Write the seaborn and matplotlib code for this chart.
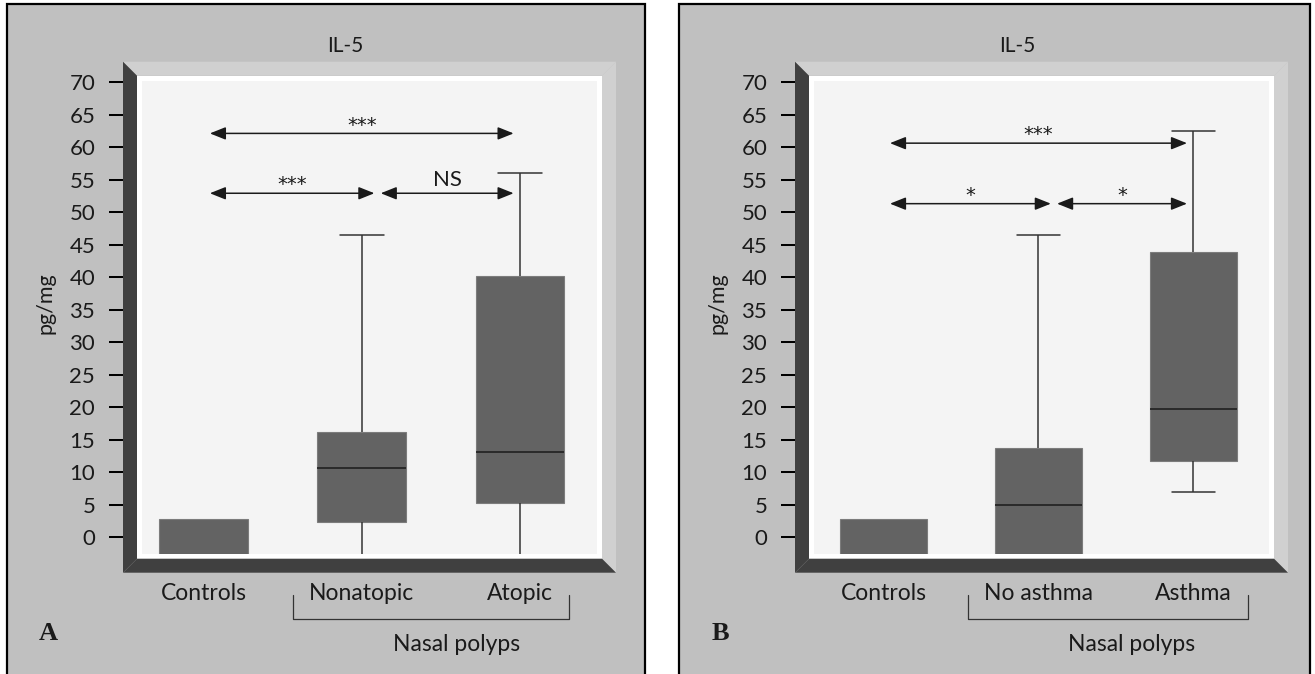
import numpy as np
import pandas as pd
import seaborn as sns
import matplotlib.pyplot as plt
from matplotlib.patches import Polygon, Rectangle
from matplotlib.lines import Line2D
from matplotlib.transforms import blended_transform_factory

# panel A: nasal polyps split by atopy (five-number summaries, pg/mg)
groups_a = ["Controls", "Nonatopic", "Atopic"]
low_a = [-3.0, -3.0, -3.0]
q1_a = [-3.0, 2.3, 5.3]
med_a = [-3.0, 10.6, 13.2]
q3_a = [2.8, 16.2, 40.2]
high_a = [2.8, 46.5, 56.0]
tests_a = [("Controls", "Atopic", 62.1, "***"),
           ("Controls", "Nonatopic", 52.9, "***"),
           ("Nonatopic", "Atopic", 52.9, "NS")]

# panel B: nasal polyps split by asthma
groups_b = ["Controls", "No asthma", "Asthma"]
low_b = [-3.0, -3.0, 7.0]
q1_b = [-3.0, -3.0, 11.8]
med_b = [-3.0, 5.0, 19.7]
q3_b = [2.8, 13.7, 43.8]
high_b = [2.8, 46.5, 62.5]
tests_b = [("Controls", "Asthma", 60.6, "***"),
           ("Controls", "No asthma", 51.3, "*"),
           ("No asthma", "Asthma", 51.3, "*")]

yticks = list(range(0, 75, 5))

sns.set_theme(style="ticks")
plt.rcParams["font.family"] = ["Lato", "DejaVu Sans"]
plt.rcParams["text.color"] = "#1a1a1a"

W, H = 1315, 674
INK = "#1a1a1a"
fig = plt.figure(figsize=(W / 100, H / 100), dpi=100, facecolor="white")


def frac(x, y):
    return (x / W, 1 - y / H)


def poly(pts, color, z=-1):
    fig.add_artist(Polygon([frac(x, y) for x, y in pts], closed=True,
                           facecolor=color, edgecolor="none",
                           transform=fig.transFigure, zorder=z))


def panel(left, frame, groups, low, q1, med, q3, high, tests, xlim, letter):
    top, bottom, width = 80.7, 553.7, 455
    right = left + width

    # grey card with black border
    x0, x1 = frame
    fig.add_artist(Rectangle(frac(x0, H + 5), (x1 - x0) / W, (H + 1) / H,
                             facecolor="#c0c0c0", edgecolor="black", lw=1.6,
                             transform=fig.transFigure, zorder=-3))

    # bevelled frame round the plotting area
    il, ir, it, ib = left - 5, right + 5, top - 5, bottom + 5
    ol, orr, ot, ob = il - 14, ir + 14, it - 14, ib + 14
    poly([(il, it), (ir, it), (ir, ib), (il, ib)], "white")
    poly([(ol, ot), (orr, ot), (ir, it), (il, it)], "#d0d0d0")
    poly([(orr, ot), (orr, ob), (ir, ib), (ir, it)], "#d0d0d0")
    poly([(ol, ot), (il, it), (il, ib), (ol, ob)], "#404040")
    poly([(ol, ob), (il, ib), (ir, ib), (orr, ob)], "#404040")

    ax = fig.add_axes([left / W, 1 - bottom / H, width / W, (bottom - top) / H])
    ax.set_facecolor("#f4f4f4")

    df = pd.DataFrame({
        "group": np.repeat(groups, 5),
        "value": np.column_stack([low, q1, med, q3, high]).ravel(),
    })
    sns.boxplot(data=df, x="group", y="value", order=groups, ax=ax,
                width=0.56, color="#636363", saturation=1,
                linecolor="#333333", linewidth=1.1, whis=(0, 100),
                showfliers=False,
                boxprops={"edgecolor": "#7c7c7c", "linewidth": 0.8},
                medianprops={"color": "#202020", "linewidth": 1.2})
    box = ax.containers[0]
    for i in range(len(groups)):
        if high[i] <= q3[i]:
            box.caps[2 * i + 1].set_visible(False)
            box.whiskers[2 * i + 1].set_visible(False)

    ax.set_xlim(*xlim)
    ax.set_ylim(-2.5, 70.2)
    ax.set_yticks(yticks)
    for s in ax.spines.values():
        s.set_visible(False)
    ax.spines["left"].set_position(("outward", 13.7))
    ax.tick_params(axis="y", length=10, width=1.45, color="black", pad=10,
                   labelsize=16, labelcolor=INK)
    ax.tick_params(axis="x", length=0, pad=21, labelsize=16.5, labelcolor=INK)
    ax.set_xlabel("")
    ax.set_ylabel("pg/mg", fontsize=15.5, color=INK, va="center")
    ax.yaxis.set_label_coords(-0.211, 0.53)

    ax.text(0.446, 1.073, "IL-5", transform=ax.transAxes, ha="center",
            va="center", fontsize=15)

    # significance arrows
    for a, b, y, label in tests:
        i, j = groups.index(a), groups.index(b)
        xa = i + (0.12 if i == 1 else 0.04)
        xb = j + (0.08 if j == 1 else -0.04)
        ax.annotate("", xy=(xb, y), xytext=(xa, y),
                    arrowprops=dict(arrowstyle="<|-|>,head_length=0.8,head_width=0.32",
                                    color=INK, lw=1.1, shrinkA=0, shrinkB=0))
        if label == "NS":
            ax.annotate(label, xy=((xa + xb) / 2, y), xytext=(0, 5),
                        textcoords="offset points", ha="center",
                        va="baseline", fontsize=16)
        else:
            ax.annotate(label, xy=((xa + xb) / 2, y), xytext=(0, 2),
                        textcoords="offset points", ha="center",
                        va="baseline", fontsize=14, family="DejaVu Sans")

    # bracket under the two polyp groups
    fig.canvas.draw()
    labels = ax.get_xticklabels()
    bl = labels[1].get_window_extent().x0 - 16
    br = labels[2].get_window_extent().x1 + 16
    yt, yb = bottom + 41, bottom + 65
    fig.add_artist(Line2D([bl / W, bl / W, br / W, br / W],
                          [1 - yt / H, 1 - yb / H, 1 - yb / H, 1 - yt / H],
                          color="#333333", lw=0.9, transform=fig.transFigure))
    tr = blended_transform_factory(ax.transData, ax.transAxes)
    ax.text(1.6, -0.193, "Nasal polyps", transform=tr, ha="center",
            va="center", fontsize=16.5)

    fig.text((left - 94) / W, 1 - 634 / H, letter, ha="center", va="center",
             fontsize=19, fontweight="bold", family="Liberation Serif", color=INK)
    return ax


panel(142, (7, 645), groups_a, low_a, q1_a, med_a, q3_a, high_a, tests_a,
      (-0.389, 2.487), "A")
panel(814, (679, 1310), groups_b, low_b, q1_b, med_b, q3_b, high_b, tests_b,
      (-0.451, 2.49), "B")

fig.savefig("out.png", dpi=100, facecolor="white")
